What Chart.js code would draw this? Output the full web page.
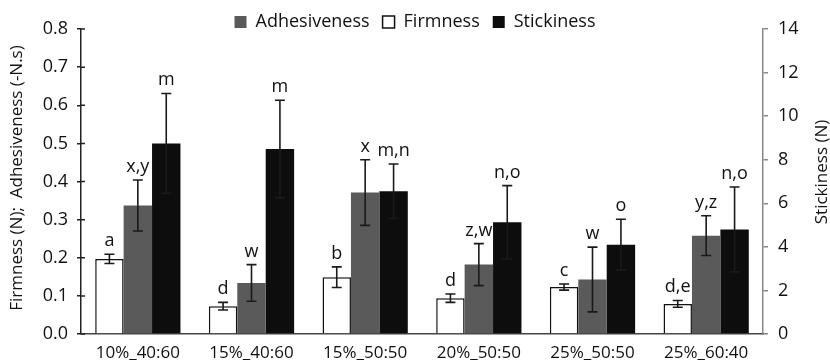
<!DOCTYPE html>
<html>
<head>
<meta charset="utf-8">
<script src="https://cdn.jsdelivr.net/npm/chart.js@4"></script>
<style>
  html, body { margin: 0; padding: 0; background: #fff; }
  #wrap { width: 830px; height: 360px; position: relative; }
</style>
</head>
<body>
<div id="wrap"><canvas id="chart"></canvas></div>
<script>
const categories = ['10%_40:60', '15%_40:60', '15%_50:50', '20%_50:50', '25%_50:50', '25%_60:40'];

const firmness = [0.197, 0.073, 0.149, 0.094, 0.123, 0.079];
const firmnessErr = [0.012, 0.010, 0.027, 0.011, 0.008, 0.009];
const firmnessLetters = ['a', 'd', 'b', 'd', 'c', 'd,e'];

const adhesiveness = [0.337, 0.134, 0.371, 0.182, 0.143, 0.258];
const adhesivenessErr = [0.067, 0.048, 0.086, 0.055, 0.085, 0.052];
const adhesivenessLetters = ['x,y', 'w', 'x', 'z,w', 'w', 'y,z'];

const stickiness = [8.75, 8.49, 6.55, 5.13, 4.10, 4.80];
const stickinessErr = [2.29, 2.24, 1.25, 1.68, 1.17, 1.95];
const stickinessLetters = ['m', 'm', 'm,n', 'n,o', 'o', 'n,o'];

const leftTicks = [0, 0.1, 0.2, 0.3, 0.4, 0.5, 0.6, 0.7, 0.8];
const legendOrder = ['Adhesiveness', 'Firmness', 'Stickiness'];

const FONT = "'Open Sans', sans-serif";

// keep the legend band a fixed height so the plot top lands where it should
const legendHeight = {
    id: 'legendHeight',
    beforeInit(chart) {
        const fit = chart.legend.fit;
        chart.legend.fit = function () {
            fit.call(this);
            this.height = 29;
        };
    }
};

// error bars, letters, axis titles and the crossing ticks of the left axis
const extras = {
    id: 'extras',
    afterDatasetsDraw(chart) {
        const ctx = chart.ctx;
        ctx.save();
        chart.data.datasets.forEach((ds, i) => {
            const meta = chart.getDatasetMeta(i);
            const scale = chart.scales[ds.yAxisID];
            meta.data.forEach((bar, j) => {
                const v = ds.data[j];
                const e = ds.errors[j];
                const yTop = scale.getPixelForValue(v + e);
                const yBot = scale.getPixelForValue(v - e);
                ctx.strokeStyle = '#1a1a1a';
                ctx.lineWidth = 1.6;
                ctx.beginPath();
                ctx.moveTo(bar.x, yTop);
                ctx.lineTo(bar.x, yBot);
                ctx.moveTo(bar.x - 5, yTop);
                ctx.lineTo(bar.x + 5, yTop);
                ctx.moveTo(bar.x - 5, yBot);
                ctx.lineTo(bar.x + 5, yBot);
                ctx.stroke();

                ctx.fillStyle = '#111';
                ctx.font = '18px ' + FONT;
                ctx.textAlign = 'center';
                ctx.textBaseline = 'alphabetic';
                ctx.fillText(ds.letters[j], bar.x, yTop - 8);
            });
        });
        ctx.restore();
    },
    afterDraw(chart) {
        const ctx = chart.ctx;
        const area = chart.chartArea;
        const y = chart.scales.y;
        ctx.save();
        ctx.strokeStyle = '#222';
        ctx.lineWidth = 1.5;
        ctx.beginPath();
        leftTicks.forEach(t => {
            const py = y.getPixelForValue(t);
            ctx.moveTo(area.left, py);
            ctx.lineTo(area.left + 4, py);
        });
        ctx.stroke();

        ctx.fillStyle = '#111';
        ctx.font = '17px ' + FONT;
        ctx.textAlign = 'center';
        ctx.textBaseline = 'middle';
        ctx.translate(17, 178);
        ctx.rotate(-Math.PI / 2);
        ctx.fillText('Firmness (N);  Adhesiveness (-N.s)', 0, 0);
        ctx.restore();

        ctx.save();
        ctx.fillStyle = '#111';
        ctx.font = '17px ' + FONT;
        ctx.textAlign = 'center';
        ctx.textBaseline = 'middle';
        ctx.translate(822, 172);
        ctx.rotate(-Math.PI / 2);
        ctx.fillText('Stickiness (N)', 0, 0);
        ctx.restore();
    }
};

const ctx = document.getElementById('chart').getContext('2d');
new Chart(ctx, {
    type: 'bar',
    data: {
        labels: categories,
        datasets: [
            {
                label: 'Firmness',
                data: firmness,
                errors: firmnessErr,
                letters: firmnessLetters,
                yAxisID: 'y',
                backgroundColor: '#ffffff',
                borderColor: '#111111',
                borderWidth: 1.5
            },
            {
                label: 'Adhesiveness',
                data: adhesiveness,
                errors: adhesivenessErr,
                letters: adhesivenessLetters,
                yAxisID: 'y',
                backgroundColor: '#5a5a5a',
                borderColor: '#5a5a5a',
                borderWidth: 0
            },
            {
                label: 'Stickiness',
                data: stickiness,
                errors: stickinessErr,
                letters: stickinessLetters,
                yAxisID: 'y2',
                backgroundColor: '#0d0d0d',
                borderColor: '#0d0d0d',
                borderWidth: 0
            }
        ]
    },
    options: {
        responsive: true,
        maintainAspectRatio: false,
        animation: false,
        layout: { padding: 0 },
        datasets: {
            bar: { categoryPercentage: 0.75, barPercentage: 1.0 }
        },
        plugins: {
            tooltip: { enabled: false },
            legend: {
                position: 'top',
                labels: {
                    font: { family: FONT, size: 18 },
                    color: '#111',
                    boxWidth: 12,
                    boxHeight: 12,
                    padding: 13,
                    sort: (a, b) => legendOrder.indexOf(a.text) - legendOrder.indexOf(b.text)
                }
            }
        },
        scales: {
            x: {
                grid: { display: false },
                border: { color: '#444', width: 1.5 },
                ticks: {
                    font: { family: FONT, size: 17 },
                    color: '#111',
                    padding: 1,
                    maxRotation: 0,
                    autoSkip: false
                },
                afterFit(scale) { scale.height = 26; }
            },
            y: {
                position: 'left',
                min: 0,
                max: 0.8,
                ticks: {
                    stepSize: 0.1,
                    font: { family: FONT, size: 18 },
                    color: '#111',
                    padding: 9,
                    callback: v => v.toFixed(1)
                },
                grid: { drawOnChartArea: false, tickLength: 4, color: '#222', lineWidth: 1.5 },
                border: { color: '#222', width: 1.5 },
                afterFit(scale) { scale.width = 81; }
            },
            y2: {
                position: 'right',
                min: 0,
                max: 14,
                ticks: {
                    stepSize: 2,
                    font: { family: FONT, size: 18 },
                    color: '#111',
                    padding: 10
                },
                grid: { drawOnChartArea: false, tickLength: 5, color: '#888', lineWidth: 1.5 },
                border: { color: '#888', width: 1.5 },
                afterFit(scale) { scale.width = 67; }
            }
        }
    },
    plugins: [legendHeight, extras]
});
</script>
</body>
</html>
